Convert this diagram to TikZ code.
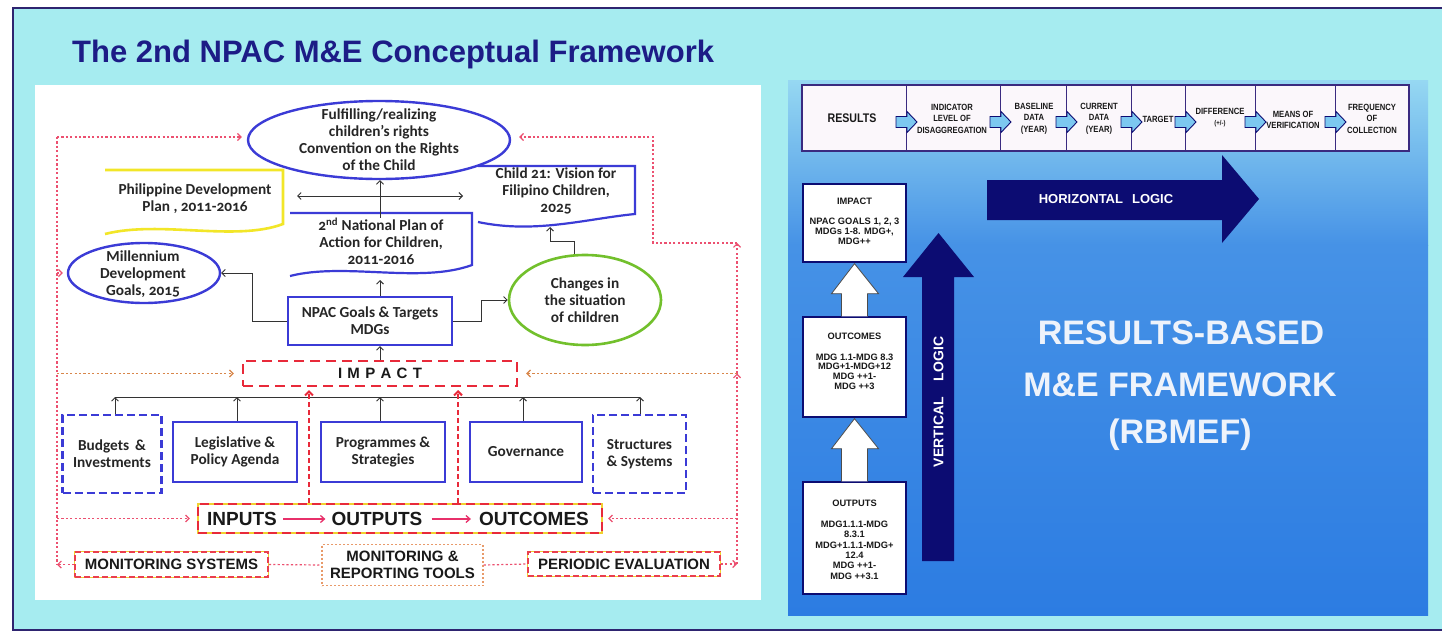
\documentclass[tikz,border=0pt]{standalone}
\usepackage{fontspec}
\setmainfont{Liberation Sans}
\newfontfamily\calfont{Carlito}[Numbers=OldStyle]
\newfontfamily\narrowfont{Liberation Sans}[FakeStretch=0.85]
\usetikzlibrary{arrows.meta,shapes.geometric,calc}

\definecolor{bgcyan}{HTML}{A6ECF0}
\definecolor{framecol}{HTML}{2E2470}
\definecolor{titleblue}{HTML}{1C1C86}
\definecolor{nodeblue}{HTML}{3B3BD6}
\definecolor{ddred}{HTML}{E82A3A}
\definecolor{dotred}{HTML}{EC5070}
\definecolor{dotorange}{HTML}{D8864A}
\definecolor{pdpyellow}{HTML}{F2E628}
\definecolor{chgreen}{HTML}{72C02C}
\definecolor{navy}{HTML}{0C0C72}
\definecolor{arrowcyan}{HTML}{7CC8F0}
\definecolor{tablefill}{HTML}{FBF7FB}
\definecolor{tableline}{HTML}{3A2A80}
\definecolor{ioyellow}{HTML}{F0D030}
\definecolor{flowpink}{HTML}{E8306A}
\definecolor{skytop}{HTML}{96D8F2}
\definecolor{skymid}{HTML}{4692E6}
\definecolor{skybot}{HTML}{2C7CE2}
\definecolor{bigtext}{HTML}{EEF3FB}
\definecolor{mrtline}{HTML}{E89A6A}

\tikzset{
  cal/.style={font=\calfont\bfseries\fontsize{15.3}{16.9}\selectfont, text=black!85, align=center, inner sep=0pt},
  bluebox/.style={rectangle, draw=nodeblue, line width=2.2pt, fill=white, inner sep=0pt, cal},
  bluedash/.style={bluebox, dash pattern=on 8pt off 4pt},
  oval/.style={ellipse, draw=nodeblue, line width=2.4pt, fill=white, inner sep=0pt},
  conn/.style={draw=black!80, line width=0.9pt, -{Straight Barb[length=3.5pt,width=7pt]}},
  dotc/.style={draw=dotred, line width=1.2pt, dash pattern=on 2.2pt off 2.2pt},
  dotarr/.style={dotc, -{Straight Barb[length=3.5pt,width=7pt]}},
  dotorangearr/.style={dotarr, draw=dotorange},
  redup/.style={draw=ddred, line width=2pt, dash pattern=on 5pt off 3pt, -{Straight Barb[length=4pt,width=8pt]}},
  flow/.style={draw=flowpink, line width=1.3pt, -{Straight Barb[length=4pt,width=7pt]}},
  capsbold/.style={font=\bfseries\fontsize{15}{17}\selectfont, text=black!90, align=center, inner sep=0pt},
  iotext/.style={font=\bfseries\fontsize{19}{21}\selectfont, text=black!90, inner sep=0pt},
  impactbox/.style={rectangle, draw=ddred, line width=2.4pt, dash pattern=on 10pt off 6pt, fill=white, capsbold},
  iobox/.style={rectangle, draw=ddred, line width=2.2pt, dash pattern=on 9pt off 5pt, preaction={draw=ioyellow, solid}},
  msbox/.style={rectangle, draw=ddred!90, line width=1.7pt, dash pattern=on 6pt off 3pt, preaction={draw=ioyellow, solid}, fill=white, capsbold},
  mrtbox/.style={rectangle, draw=mrtline, line width=1.3pt, dash pattern=on 2pt off 2pt, fill=white, capsbold},
  pebox/.style={msbox, line width=1.4pt},
  tabtext/.style={font=\narrowfont\bfseries\fontsize{9}{11.5}\selectfont, text=black!90, align=center, inner sep=0pt},
  rbox/.style={rectangle, draw=navy, line width=1.3pt, fill=white, inner sep=0pt},
  rtext/.style={font=\bfseries\fontsize{9.3}{9.7}\selectfont, text=black!90, align=center, inner sep=0pt},
  hollow/.style={draw=black!70, line width=0.8pt, fill=white},
  blockarrow/.style={fill=arrowcyan, draw=navy, line width=0.9pt},
  logictext/.style={font=\bfseries\fontsize{13}{15}\selectfont, text=white, inner sep=0pt},
  bigfont/.style={font=\bfseries\fontsize{34}{40}\selectfont, text=bigtext, inner sep=0pt},
}

\begin{document}
\begin{tikzpicture}[x=1pt,y=-1pt]
\useasboundingbox (0,0) rectangle (1442,632);
\fill[white] (0,0) rectangle (1442,632);
\fill[bgcyan] (13,8) rectangle (1442,630);
\draw[framecol, line width=2.2pt] (1442,8) -- (13,8) -- (13,630) -- (1442,630);

\node[anchor=base west, font=\bfseries\fontsize{31}{34}\selectfont, text=titleblue, inner sep=0pt] (title) at (72,62) {The 2nd NPAC M\&E Conceptual Framework};

% ================= conceptual framework (left) =================
\fill[white] (35,85) rectangle (761,600);

% document-style boxes (top, right side and wavy bottom)
\draw[pdpyellow, line width=2.6pt] (105,170) -- (283,170) -- (283,224) .. controls (235,242) and (160,220) .. (105,234);
\node[cal] (pdp) at (195,198.5) {Philippine Development\\Plan , 2011-2016};

\draw[nodeblue, line width=2.2pt] (290,213) -- (472,213) -- (472,265) .. controls (420,284) and (345,262) .. (290,276);
\node[cal] (npa) at (381,241.5) {2\textsuperscript{nd} National Plan of\\Action for Children,\\2011-2016};

\draw[nodeblue, line width=2.2pt] (478,166) -- (635,166) -- (635,214) .. controls (585,219) and (535,234) .. (478,222);
\node[cal] (c21) at (556,191) {Child 21: Vision for\\Filipino Children,\\2025};

% ellipses
\node[oval, minimum width=262, minimum height=78] (goal) at (379,140) {};
\node[cal] (goalT) at (379,140) {Fulfilling/realizing\\children’s rights\\Convention on the Rights\\of the Child};

\node[oval, minimum width=152, minimum height=60] (mdg) at (144,273) {};
\node[cal] (mdgT) at (143,274) {Millennium\\Development\\Goals, 2015};

\node[oval, draw=chgreen, line width=2.6pt, minimum width=152, minimum height=90] (chg) at (585,300) {};
\node[cal] (chgT) at (585,300.5) {Changes in\\the situation\\of children};

% NPAC goals box and IMPACT
\node[bluebox, minimum width=164, minimum height=48] (npac) at (370,321) {NPAC Goals \& Targets\\MDGs};
\node[impactbox, minimum width=274, minimum height=25] (impact) at (380,373.5) {I\hspace{5.3pt}M\hspace{5.3pt}P\hspace{5.3pt}A\hspace{5.3pt}C\hspace{5.3pt}T};

% input areas
\node[bluedash, minimum width=99, minimum height=78] (budg) at (112,454) {Budgets \,\&\\Investments};
\node[bluebox, minimum width=124, minimum height=60] (legis) at (235,452) {Legislative \&\\Policy Agenda};
\node[bluebox, minimum width=124, minimum height=60] (prog) at (383,452) {Programmes \&\\Strategies};
\node[bluebox, minimum width=112, minimum height=60] (gov) at (526,452) {Governance};
\node[bluedash, minimum width=93, minimum height=78] (struct) at (639.5,454) {Structures\\\& Systems};

% results chain
\node[iobox, minimum width=404, minimum height=29] (io) at (400,518.5) {};
\node[iotext] (inp) at (242,519) {INPUTS};
\node[iotext] (outp) at (377,519) {OUTPUTS};
\node[iotext] (outc) at (534,519) {OUTCOMES};
\draw[flow, shorten <=6pt, shorten >=6pt] (inp) -- (outp);
\draw[flow, shorten <=9pt, shorten >=8pt] (outp) -- (outc);

% monitoring row
\node[msbox, minimum width=193, minimum height=25] (ms) at (171.5,564.5) {MONITORING SYSTEMS};
\node[mrtbox, minimum width=161, minimum height=41] (mrt) at (402.5,565) {MONITORING \&\\REPORTING TOOLS};
\node[pebox, minimum width=192, minimum height=24] (pe) at (624,564) {PERIODIC EVALUATION};

% solid connectors
\coordinate (axis) at (380,0);
\coordinate (dblL) at (297,196);
\coordinate (dblR) at (463,196);
\coordinate (npaB) at (380,280);
\coordinate (c21B) at (550,227);
\draw[conn, {Straight Barb[length=3.5pt,width=7pt]}-{Straight Barb[length=3.5pt,width=7pt]}] (dblL) -- (dblR);
\draw[conn] (axis |- npa.north) -- (axis |- goal.south);
\draw[conn] (axis |- npac.north) -- (npaB);
\draw[conn] (axis |- impact.north) -- (axis |- npac.south);
\draw[conn] (npac.west) -- ++(-34,0) |- (mdg.east);
\draw[conn] (npac.east) -- ++(28,0) |- (chg.west);
\draw[conn] ($(chg.north)+(-11,0.5)$) -- ++(0,-13) -| (c21B);

\coordinate (barL) at (115,397);
\coordinate (barR) at (640,397);
\draw[black!80, line width=0.9pt] (barL) -- (barR);
\foreach \nm/\xx in {budg/115, legis/237, prog/380, gov/523, struct/640}
  \draw[conn] (\nm.north -| \xx,0) -- (\xx,0 |- barL);

% red dashed feeds into IMPACT
\coordinate (redAend) at (309,390);
\coordinate (redBend) at (458,390);
\draw[redup] (redAend |- io.north) -- (redAend);
\draw[redup] (redBend |- io.north) -- (redBend);

% dotted feedback loops, left side
\coordinate (Ltop) at (57,137);
\draw[dotc] (Ltop) -- (Ltop |- ms.west);
\draw[dotarr, shorten >=5pt] (Ltop) -- (Ltop -| goal.west);
\draw[dotarr, shorten >=4pt] (Ltop |- mdg.west) -- (mdg.west);
\draw[dotorangearr, shorten >=8pt] (Ltop |- impact.west) -- (impact.west);
\draw[dotarr, shorten >=7pt] (Ltop |- io.west) -- (io.west);
\draw[dotarr] (ms.west) -- (Ltop |- ms.west);

% dotted feedback loops, right side
\coordinate (Rtop) at (737,243);
\coordinate (Rc) at (653,137);
\draw[dotarr] (pe.east) -- (Rtop |- pe.east);
\draw[dotarr] (Rtop |- pe.east) -- (Rtop |- impact.east);
\draw[dotarr] (Rtop |- impact.east) -- (Rtop);
\draw[dotarr, shorten >=8pt] (Rtop) -| (Rc) -- (Rc -| goal.east);
\draw[dotorangearr, shorten >=8pt] (Rtop |- impact.east) -- (impact.east);
\draw[dotarr, shorten >=5pt] (Rtop |- io.east) -- (io.east);

% monitoring links
\draw[dotc] (ms.east) -- (mrt.west);
\draw[dotc] (mrt.east) -- (pe.west);

% ================= results-based framework (right) =================
\shade[top color=skytop, bottom color=skymid] (788,80) rectangle (1428,245);
\shade[top color=skymid, bottom color=skybot] (788,245) rectangle (1428,615);

% matrix header
\fill[tablefill] (802,85) rectangle (1409,151);
\foreach \bx in {906,1000,1066,1131,1185,1255,1335}
  \draw[tableline, line width=0.8pt] (\bx,85) -- (\bx,151);
\draw[tableline, line width=1.5pt] (802,85) rectangle (1409,151);

\node[tabtext, font=\narrowfont\bfseries\fontsize{12.5}{14}\selectfont] (tRes) at (852,118.5) {RESULTS};
\node[tabtext] (tInd) at (952,118.5) {INDICATOR\\LEVEL OF\\DISAGGREGATION};
\node[tabtext] (tBase) at (1034,118.5) {BASELINE\\DATA\\(YEAR)};
\node[tabtext] (tCur) at (1099,118.5) {CURRENT\\DATA\\(YEAR)};
\node[tabtext] (tTgt) at (1158,119) {TARGET};
\node[tabtext] (tDiff) at (1220,117.5) {DIFFERENCE\\{\fontsize{7}{8}\selectfont(+/-)}};
\node[tabtext] (tMeans) at (1293,120) {MEANS OF\\VERIFICATION};
\node[tabtext] (tFreq) at (1372,118.5) {FREQUENCY\\OF\\COLLECTION};

\foreach \bx in {906,1000,1066,1131,1185,1255,1335}
  \draw[blockarrow] (\bx-10,116.5) -- (\bx+1,116.5) -- (\bx+1,111.5) -- (\bx+11,122) -- (\bx+1,132.5) -- (\bx+1,127.5) -- (\bx-10,127.5) -- cycle;

% logic arrows
\fill[navy] (987,180) -- (1222,180) -- (1222,155) -- (1259,199) -- (1222,243) -- (1222,220) -- (987,220) -- cycle;
\node[logictext] (hlog) at (1106,199.5) {HORIZONTAL\hspace{9pt}LOGIC};

\fill[navy] (922,561) -- (922,277) -- (903,277) -- (938.5,233) -- (974,277) -- (954,277) -- (954,561) -- cycle;
\node[logictext, rotate=90, font=\bfseries\fontsize{14}{16}\selectfont] (vlog) at (938.5,402) {VERTICAL\hspace{16pt}LOGIC};

% results levels
\node[rbox, minimum width=103, minimum height=78] (rImp) at (854.5,223) {};
\node[rtext] (rImpT) at (854.5,221) {IMPACT\\[10.5pt]NPAC GOALS 1, 2, 3\\MDGs 1-8. MDG+,\\MDG++};
\node[rbox, minimum width=103, minimum height=100] (rOutc) at (854.5,367) {};
\node[rtext] (rOutcT) at (854.5,361) {OUTCOMES\\[11.3pt]MDG 1.1-MDG 8.3\\MDG+1-MDG+12\\MDG ++1-\\MDG ++3};
\node[rbox, minimum width=103, minimum height=112] (rOutp) at (854.5,538) {};
\node[rtext, font=\bfseries\fontsize{9.3}{10.4}\selectfont] (rOutpT) at (854.5,539.5) {OUTPUTS\\[10.6pt]MDG1.1.1-MDG\\8.3.1\\MDG+1.1.1-MDG+\\12.4\\MDG ++1-\\MDG ++3.1};

\draw[hollow] ($(rOutc.north)+(-13,0)$) -- ($(rImp.south)+(-13,31)$) -- ($(rImp.south)+(-23,31)$) -- ($(rImp.south)+(0,1)$) -- ($(rImp.south)+(24,31)$) -- ($(rImp.south)+(13,31)$) -- ($(rOutc.north)+(13,0)$);
\draw[hollow] ($(rOutp.north)+(-13,0)$) -- ($(rOutc.south)+(-13,31)$) -- ($(rOutc.south)+(-23,31)$) -- ($(rOutc.south)+(0,1)$) -- ($(rOutc.south)+(24,31)$) -- ($(rOutc.south)+(13,31)$) -- ($(rOutp.north)+(13,0)$);

% heading of the right panel
\node[bigfont] (rb1) at (1181,333) {RESULTS-BASED};
\node[bigfont] (rb2) at (1180,385) {M\&E FRAMEWORK};
\node[bigfont] (rb3) at (1180,435) {(RBMEF)};
\end{tikzpicture}
\end{document}
